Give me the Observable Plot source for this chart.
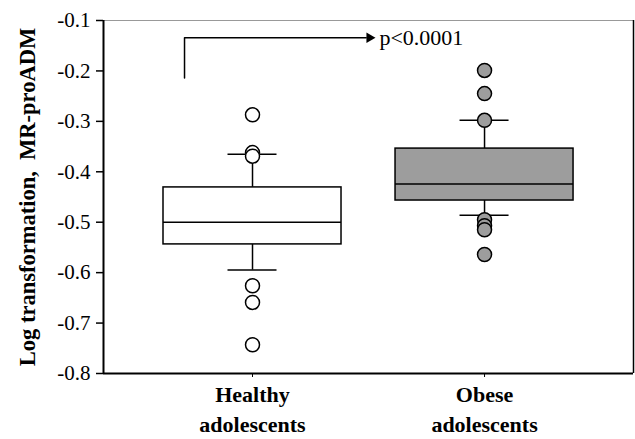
<!DOCTYPE html>
<html><head><meta charset="utf-8">
<script src="https://cdn.jsdelivr.net/npm/d3@7"></script>
<script src="https://cdn.jsdelivr.net/npm/@observablehq/plot@0.6"></script>
<style>body{margin:0;background:#fff}</style>
</head><body><div id="chart"></div>
<script>
// ---- data ----
const groups = ["Healthy\nadolescents", "Obese\nadolescents"];
const groupPos = [1, 2];
const q1 = [-0.544, -0.457];
const median = [-0.500, -0.424];
const q3 = [-0.431, -0.354];
const whiskerLow = [-0.595, -0.486];
const whiskerHigh = [-0.365, -0.298];
const groupFill = ["#ffffff", "#9d9d9d"];
const outlierGroup = [0, 0, 0, 0, 0, 0, 1, 1, 1, 1, 1, 1, 1];
const outlierValue = [-0.287, -0.362, -0.369, -0.626, -0.659, -0.743,
                      -0.199, -0.245, -0.298, -0.495, -0.507, -0.515, -0.564];
const yTicks = [-0.1, -0.2, -0.3, -0.4, -0.5, -0.6, -0.7, -0.8];
const bracketX = [0.707, 0.707, 1.49];
const bracketY = [-0.214, -0.134, -0.134];
const arrowTip = {x: 1.504, y: -0.134};
const pLabel = {x: 1.547, y: -0.134, text: "p<0.0001"};
const yTitle = "Log transformation,\u00a0 MR-proADM";

// ---- tables ----
const boxes = groups.map((g, i) => ({pos: groupPos[i], q1: q1[i], med: median[i], q3: q3[i],
  lo: whiskerLow[i], hi: whiskerHigh[i], fill: groupFill[i]}));
const outliers = outlierValue.map((v, i) => ({pos: groupPos[outlierGroup[i]], value: v, fill: groupFill[outlierGroup[i]]}));
const bracket = bracketX.map((x, i) => ({x, y: bracketY[i]}));

const xDomain = [0.3578, 2.642];
const halfBox = 0.3836, halfCap = 0.1056;
const sw = 1.5;

const chart = Plot.plot({
  width: 635, height: 439,
  marginLeft: 103, marginRight: 2, marginTop: 20, marginBottom: 66,
  style: {fontFamily: "'Liberation Serif', 'Times New Roman', serif", background: "white", color: "black"},
  x: {type: "linear", domain: xDomain},
  y: {domain: [-0.8, -0.1]},
  color: {type: "identity"},
  marks: [
    Plot.ruleY([-0.1], {stroke: "#999", strokeWidth: 1}),
    Plot.ruleX([xDomain[1]], {stroke: "#000", strokeWidth: 1.5}),
    Plot.ruleX(boxes, {x: "pos", y1: "q3", y2: "hi", strokeWidth: sw}),
    Plot.ruleX(boxes, {x: "pos", y1: "lo", y2: "q1", strokeWidth: sw}),
    Plot.ruleY(boxes, {y: "hi", x1: d => d.pos - halfCap, x2: d => d.pos + halfCap, strokeWidth: sw}),
    Plot.ruleY(boxes, {y: "lo", x1: d => d.pos - halfCap, x2: d => d.pos + halfCap, strokeWidth: sw}),
    Plot.rect(boxes, {x1: d => d.pos - halfBox, x2: d => d.pos + halfBox, y1: "q1", y2: "q3",
      fill: "fill", stroke: "black", strokeWidth: sw}),
    Plot.ruleY(boxes, {y: "med", x1: d => d.pos - halfBox, x2: d => d.pos + halfBox, strokeWidth: sw}),
    Plot.dot(outliers, {x: "pos", y: "value", r: 7, fill: "fill", stroke: "black", strokeWidth: sw}),
    Plot.line(bracket, {x: "x", y: "y", stroke: "black", strokeWidth: sw}),
    Plot.dot([arrowTip], {x: "x", y: "y", symbol: "triangle2", rotate: 90, r: 5, fill: "black"}),
    Plot.text([pLabel], {x: "x", y: "y", text: "text", textAnchor: "start", lineAnchor: "middle", fontSize: 22}),
    Plot.axisY({ticks: yTicks, tickSize: 7, tickPadding: 6, tickFormat: d => d.toFixed(1),
      fontSize: 21, label: null, strokeWidth: 1.5}),
    Plot.axisX({ticks: groupPos, tickSize: 4, tickPadding: 3, tickFormat: i => groups[i - 1],
      fontSize: 22, fontWeight: "bold", lineHeight: 1.36, label: null}),
    Plot.ruleX([xDomain[0]], {strokeWidth: 2}),
    Plot.ruleY([-0.8], {strokeWidth: 2}),
    Plot.text([yTitle], {text: d => d, frameAnchor: "left", rotate: -90, dx: -76,
      fontSize: 22.5, fontWeight: "bold", textAnchor: "middle", lineAnchor: "middle"})
  ]
});
document.getElementById("chart").appendChild(chart);
</script>
</body></html>
